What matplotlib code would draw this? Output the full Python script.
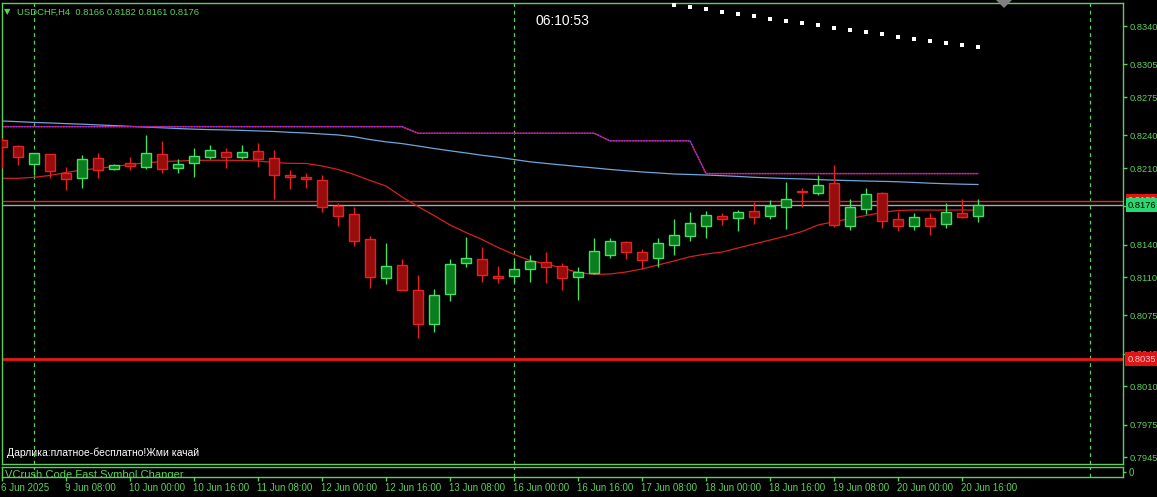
import numpy as np
import matplotlib
matplotlib.use("Agg")
import matplotlib.pyplot as plt
from matplotlib import transforms
from matplotlib.patches import Polygon

plt.rcParams['font.family'] = ['Liberation Sans', 'DejaVu Sans']

# ---------------- data ----------------
symbol_label = "USDCHF,H4  0.8166 0.8182 0.8161 0.8176"
timer_text = "06:10:53"
note_text = "Дарлика:платное-бесплатно!Жми качай"
subwindow_text = "VCrush Code Fast Symbol Changer"

opens = [0.8236, 0.8230, 0.8214, 0.8223, 0.8206, 0.8201, 0.8219, 0.8209, 0.8215, 0.8211,
         0.8223, 0.8210, 0.8215, 0.8220, 0.8225, 0.8220, 0.8226, 0.8219, 0.8204, 0.8202,
         0.8199, 0.8175, 0.8168, 0.8145, 0.8109, 0.8121, 0.8098, 0.8067, 0.8095, 0.8123,
         0.8127, 0.8111, 0.8111, 0.8118, 0.8124, 0.8120, 0.8110, 0.8114, 0.8130, 0.8142,
         0.8133, 0.8128, 0.8140, 0.8148, 0.8157, 0.8166, 0.8164, 0.8171, 0.8166, 0.8174,
         0.8189, 0.8187, 0.8196, 0.8157, 0.8173, 0.8187, 0.8163, 0.8157, 0.8164, 0.8159,
         0.8169, 0.8166]
highs = [0.8238, 0.8231, 0.8224, 0.8223, 0.8211, 0.8222, 0.8224, 0.8214, 0.8220, 0.8240,
         0.8235, 0.8218, 0.8228, 0.8231, 0.8228, 0.8231, 0.8233, 0.8227, 0.8208, 0.8206,
         0.8204, 0.8178, 0.8174, 0.8148, 0.8141, 0.8127, 0.8112, 0.8099, 0.8127, 0.8147,
         0.8138, 0.8120, 0.8125, 0.8130, 0.8133, 0.8123, 0.8119, 0.8146, 0.8146, 0.8143,
         0.8136, 0.8146, 0.8163, 0.8170, 0.8171, 0.8169, 0.8172, 0.8179, 0.8181, 0.8197,
         0.8192, 0.8204, 0.8213, 0.8182, 0.8192, 0.8188, 0.8170, 0.8169, 0.8169, 0.8178,
         0.8182, 0.8182]
lows = [0.8210, 0.8213, 0.8204, 0.8201, 0.8190, 0.8192, 0.8201, 0.8208, 0.8208, 0.8209,
        0.8206, 0.8206, 0.8202, 0.8218, 0.8210, 0.8218, 0.8211, 0.8182, 0.8191, 0.8192,
        0.8170, 0.8157, 0.8139, 0.8100, 0.8104, 0.8098, 0.8054, 0.8060, 0.8088, 0.8119,
        0.8106, 0.8105, 0.8106, 0.8106, 0.8105, 0.8098, 0.8089, 0.8113, 0.8128, 0.8127,
        0.8118, 0.8119, 0.8130, 0.8143, 0.8146, 0.8158, 0.8152, 0.8159, 0.8163, 0.8154,
        0.8174, 0.8185, 0.8156, 0.8153, 0.8168, 0.8155, 0.8152, 0.8153, 0.8149, 0.8155,
        0.8164, 0.8161]
closes = [0.8229, 0.8220, 0.8224, 0.8207, 0.8200, 0.8218, 0.8208, 0.8213, 0.8212, 0.8224,
          0.8209, 0.8214, 0.8221, 0.8227, 0.8220, 0.8225, 0.8218, 0.8204, 0.8202, 0.8200,
          0.8174, 0.8166, 0.8143, 0.8110, 0.8120, 0.8098, 0.8067, 0.8094, 0.8122, 0.8128,
          0.8112, 0.8109, 0.8118, 0.8125, 0.8119, 0.8109, 0.8115, 0.8134, 0.8143, 0.8133,
          0.8126, 0.8141, 0.8149, 0.8160, 0.8167, 0.8163, 0.8170, 0.8165, 0.8175, 0.8182,
          0.8188, 0.8195, 0.8158, 0.8174, 0.8186, 0.8162, 0.8157, 0.8165, 0.8157, 0.8170,
          0.8165, 0.8176]

ma_fast = [0.82007, 0.82007, 0.82016, 0.82033, 0.82060, 0.82083, 0.82097, 0.82115, 0.82133, 0.82149,
           0.82161, 0.82165, 0.82171, 0.82172, 0.82172, 0.82171, 0.82165, 0.82152, 0.82144, 0.82143,
           0.82120, 0.82088, 0.82042, 0.81987, 0.81936, 0.81836, 0.81748, 0.81666, 0.81579, 0.81510,
           0.81446, 0.81373, 0.81309, 0.81254, 0.81221, 0.81185, 0.81144, 0.81126, 0.81130, 0.81148,
           0.81176, 0.81212, 0.81249, 0.81288, 0.81313, 0.81331, 0.81368, 0.81405, 0.81441, 0.81478,
           0.81519, 0.81579, 0.81609, 0.81638, 0.81666, 0.81694, 0.81712, 0.81716, 0.81716, 0.81716,
           0.81716, 0.81716]
ma_slow = [0.82532, 0.82526, 0.82519, 0.82514, 0.82508, 0.82503, 0.82496, 0.82490, 0.82483, 0.82476,
           0.82470, 0.82463, 0.82457, 0.82453, 0.82450, 0.82446, 0.82441, 0.82436, 0.82428, 0.82422,
           0.82413, 0.82404, 0.82388, 0.82362, 0.82341, 0.82325, 0.82303, 0.82280, 0.82259, 0.82239,
           0.82218, 0.82200, 0.82179, 0.82158, 0.82143, 0.82129, 0.82115, 0.82102, 0.82088, 0.82076,
           0.82065, 0.82056, 0.82046, 0.82042, 0.82037, 0.82031, 0.82024, 0.82016, 0.82010, 0.82005,
           0.82001, 0.81995, 0.81990, 0.81986, 0.81982, 0.81979, 0.81975, 0.81969, 0.81962, 0.81957,
           0.81953, 0.81950]
step_level = [0.8248, 0.8248, 0.8248, 0.8248, 0.8248, 0.8248, 0.8248, 0.8248, 0.8248, 0.8248,
              0.8248, 0.8248, 0.8248, 0.8248, 0.8248, 0.8248, 0.8248, 0.8248, 0.8248, 0.8248,
              0.8248, 0.8248, 0.8248, 0.8248, 0.8248, 0.8248, 0.8242, 0.8242, 0.8242, 0.8242,
              0.8242, 0.8242, 0.8242, 0.8242, 0.8242, 0.8242, 0.8242, 0.8242, 0.8235, 0.8235,
              0.8235, 0.8235, 0.8235, 0.8235, 0.8205, 0.8205, 0.8205, 0.8205, 0.8205, 0.8205,
              0.8205, 0.8205, 0.8205, 0.8205, 0.8205, 0.8205, 0.8205, 0.8205, 0.8205, 0.8205,
              0.8205, 0.8205]
sar_bars = [42, 43, 44, 45, 46, 47, 48, 49, 50, 51, 52, 53, 54, 55, 56, 57, 58, 59, 60, 61]
sar_values = [0.83598, 0.83577, 0.83559, 0.83531, 0.83513, 0.83494, 0.83467, 0.83449, 0.83430, 0.83412,
              0.83384, 0.83366, 0.83348, 0.83329, 0.83302, 0.83284, 0.83265, 0.83247, 0.83229, 0.83210]

current_price = 0.8176
red_line_price = 0.8180
support_price = 0.8035
separator_bars = [2, 32, 68]

price_ticks = [0.8340, 0.8305, 0.8275, 0.8240, 0.8210, 0.8175, 0.8140, 0.8110,
               0.8075, 0.8040, 0.8010, 0.7975, 0.7945]
time_tick_bars = [0, 4, 8, 12, 16, 20, 24, 28, 32, 36, 40, 44, 48, 52, 56, 60]
time_tick_labels = ["6 Jun 2025", "9 Jun 08:00", "10 Jun 00:00", "10 Jun 16:00",
                    "11 Jun 08:00", "12 Jun 00:00", "12 Jun 16:00", "13 Jun 08:00",
                    "16 Jun 00:00", "16 Jun 16:00", "17 Jun 08:00", "18 Jun 00:00",
                    "18 Jun 16:00", "19 Jun 08:00", "20 Jun 00:00", "20 Jun 16:00"]

# ---------------- style ----------------
GREEN = '#5cd05c'
BULL_EDGE = '#46e064'
BULL_FILL = '#0a7d1e'
BEAR_EDGE = '#e42222'
BEAR_FILL = '#980c0c'

W, H = 1157, 497
fig = plt.figure(figsize=(W / 100, H / 100), dpi=100, facecolor='black')


def fx(px):
    return px / W


def fy(py):
    return 1 - py / H


L, R, T, B = 2, 1123, 3, 464
ax = fig.add_axes([fx(L), fy(B), (R - L) / W, (B - T) / H], facecolor='black')
ST, SB = 467, 477
sub = fig.add_axes([fx(L), fy(SB), (R - L) / W, (SB - ST) / H], facecolor='black')

x_right = (R - L) / 16.0
ax.set_xlim(0, x_right)
ax.set_ylim(0.793884, 0.836135)
sub.set_xlim(0, x_right)
sub.set_ylim(-1, 1)

for a in (ax, sub):
    for s in a.spines.values():
        s.set_color(GREEN)
        s.set_linewidth(1)

# indicator lines
bars = np.arange(len(opens))
ax.plot(bars, ma_slow, color='#6ea6dc', lw=0.9, zorder=2)
ax.plot(bars, step_level, color='#d01040', lw=1.0, zorder=2)
ax.plot(bars, step_level, color='#7a40ff', lw=1.0, ls=(0, (1, 1)), zorder=2.1)
ax.plot(bars, ma_fast, color='#d42020', lw=0.9, zorder=2)

# horizontal lines
ax.axhline(red_line_price, color='#e02828', lw=1.0, zorder=1.5)
ax.axhline(current_price, color='#a8a8a8', lw=1.0, zorder=1.5)
ax.axhline(support_price, color='#e81818', lw=2.0, zorder=1.5)

# separators
for b in separator_bars:
    ax.axvline(b, color=GREEN, lw=0.9, ls=(0, (3, 3)), zorder=1)
    sub.axvline(b, color=GREEN, lw=0.9, ls=(0, (3, 3)), zorder=1)

# candles
for i in range(len(opens)):
    o, h, l, c = opens[i], highs[i], lows[i], closes[i]
    bull = c >= o
    edge = BULL_EDGE if bull else BEAR_EDGE
    fill = BULL_FILL if bull else BEAR_FILL
    ax.vlines(i, l, h, color=edge, lw=1.0, zorder=3)
    ax.bar(i, abs(c - o), bottom=min(o, c), width=0.6, color=fill,
           edgecolor=edge, linewidth=1.0, zorder=4)

# SAR dots
ax.scatter(sar_bars, sar_values, marker='s', s=5, color='white', zorder=5, linewidths=0)

# y axis
ax.yaxis.tick_right()
ax.set_yticks(price_ticks)
ax.set_yticklabels(['%.4f' % v for v in price_ticks])
ax.tick_params(axis='y', colors=GREEN, length=3, width=1, pad=2, labelsize=6.7)
ax.set_xticks([])

sub.yaxis.tick_right()
sub.set_yticks([0])
sub.set_yticklabels(['0'])
sub.tick_params(axis='y', colors=GREEN, length=2, width=1, pad=2, labelsize=7)
sub.set_xticks(time_tick_bars)
sub.set_xticklabels(time_tick_labels)
sub.tick_params(axis='x', colors=GREEN, length=3, width=1, pad=1.5, labelsize=7, direction='out')
offset = transforms.ScaledTranslation(-1 / 100, 0, fig.dpi_scale_trans)
for lab in sub.get_xticklabels():
    lab.set_horizontalalignment('left')
    lab.set_transform(lab.get_transform() + offset)

sub.text(0.003, 0.75, subwindow_text, transform=sub.transAxes, color=GREEN,
         fontsize=8, va='top', ha='left', clip_on=True)

# price labels on the right
trans = transforms.blended_transform_factory(fig.transFigure, ax.transData)
ax.text(fx(1128), red_line_price, '%.4f' % red_line_price, transform=trans, color='#f4c8c8',
        fontsize=6.7, va='center', ha='left', zorder=10, clip_on=False,
        bbox=dict(boxstyle='square,pad=0.25', fc='#e01414', ec='none'))
ax.text(fx(1128), current_price, '%.4f' % current_price, transform=trans, color='black',
        fontsize=6.7, va='center', ha='left', zorder=11, clip_on=False,
        bbox=dict(boxstyle='square,pad=0.25', fc='#28d870', ec='none'))
ax.text(fx(1128), support_price, '%.4f' % support_price, transform=trans, color='#f4c8c8',
        fontsize=6.7, va='center', ha='left', zorder=10, clip_on=False,
        bbox=dict(boxstyle='square,pad=0.3', fc='#e01414', ec='none'))

# texts
fig.text(fx(4), fy(12), '▼', color=GREEN, fontsize=6, va='center', ha='left', family=['DejaVu Sans'])
fig.text(fx(17), fy(12), symbol_label, color=GREEN, fontsize=6.8, va='center', ha='left')
fig.text(fx(535), fy(21), timer_text, color='white', fontsize=10, va='center', ha='left')
fig.text(fx(7), fy(453), note_text, color='white', fontsize=7.5, va='center', ha='left')

# chart-shift marker
fig.patches.append(Polygon([(fx(996), fy(0)), (fx(1012), fy(0)), (fx(1004), fy(8))],
                           closed=True, transform=fig.transFigure, facecolor='#808080',
                           edgecolor='none'))

fig.savefig('out.png', dpi=100, facecolor='black')
